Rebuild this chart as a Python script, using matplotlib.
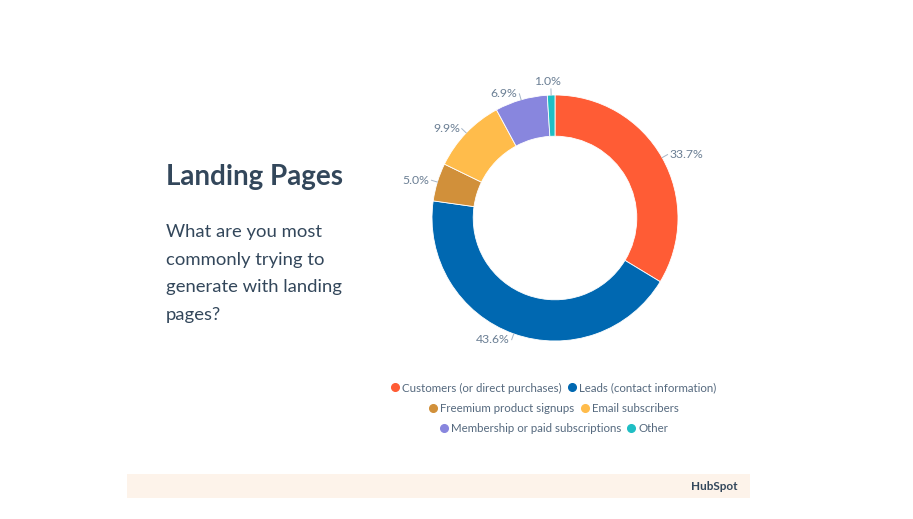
import numpy as np
import matplotlib
matplotlib.use("Agg")
import matplotlib.pyplot as plt
from matplotlib.lines import Line2D
from matplotlib.legend import Legend
from matplotlib.patches import Rectangle

categories = ["Customers (or direct purchases)", "Leads (contact information)",
              "Freemium product signups", "Email subscribers",
              "Membership or paid subscriptions", "Other"]
values = [33.7, 43.6, 5.0, 9.9, 6.9, 1.0]
colors = ["#FF5C35", "#0068B1", "#D1903A", "#FFBC4B", "#8886DE", "#1FBEC4"]
pct_labels = ["33.7%", "43.6%", "5.0%", "9.9%", "6.9%", "1.0%"]
legend_rows = [[0, 1], [2, 3], [4, 5]]

W, H = 913, 519
fig = plt.figure(figsize=(W / 100, H / 100), dpi=100)
ax = fig.add_axes([0, 0, 1, 1])

cx, cy, R = 555, H - 218, 123
wedges, _ = ax.pie(values, colors=colors, startangle=90, counterclock=False,
                   center=(cx, cy), radius=R, frame=True,
                   wedgeprops=dict(width=R * 0.335, edgecolor="white", linewidth=0.6))
ax.set_xlim(0, W)
ax.set_ylim(0, H)
ax.axis("off")

txtcol = "#6B7F94"
for w, lab in zip(wedges, pct_labels):
    ang = np.deg2rad((w.theta1 + w.theta2) / 2)
    c, s = np.cos(ang), np.sin(ang)
    p0 = (cx + R * c, cy + R * s)
    p1 = (cx + R * 1.05 * c, cy + R * 1.05 * s)
    ha = "left" if c > 0.15 else ("right" if c < -0.15 else "center")
    dx = 2 if ha == "left" else (-2 if ha == "right" else -3)
    ax.plot([p0[0], p1[0]], [p0[1], p1[1]], color="#A5B5C6", lw=0.7)
    ax.text(p1[0] + dx, p1[1] + (2 if ha == "center" else 0), lab, ha=ha,
            va="bottom" if ha == "center" else "center",
            fontsize=8.8, color=txtcol, family="Lato")

# legend rows
row_y = [388, 409, 429]
for row, yy in zip(legend_rows, row_y):
    handles = [Line2D([], [], marker="o", ls="", color=colors[i], markersize=5.5) for i in row]
    leg = Legend(ax, handles, [categories[i] for i in row], loc="center",
                 bbox_to_anchor=(553 / W, 1 - yy / H), ncol=2, frameon=False,
                 handletextpad=0.1, columnspacing=0.4, handlelength=1.0,
                 prop=dict(family="Lato", size=8.3), labelcolor="#55697E",
                 borderpad=0)
    ax.add_artist(leg)

# left text
ax.text(166, H - 177, "Landing Pages", fontsize=20, fontweight="bold",
        color="#33475B", family="Lato", va="center", ha="left")
lines = ["What are you most", "commonly trying to", "generate with landing", "pages?"]
for k, ln in enumerate(lines):
    ax.text(166, H - (232 + 27.7 * k), ln, fontsize=13.3, color="#33475B",
            family="Lato", va="center", ha="left")

# footer band
ax.add_patch(Rectangle((127, H - 498), 623, 24, facecolor="#FDF3EA", edgecolor="none"))
ax.text(738, H - 487, "HubSpot", fontsize=8.5, fontweight="bold", color="#33475B",
        family="Lato", ha="right", va="center")

fig.savefig("out.png", dpi=100, facecolor="white")
